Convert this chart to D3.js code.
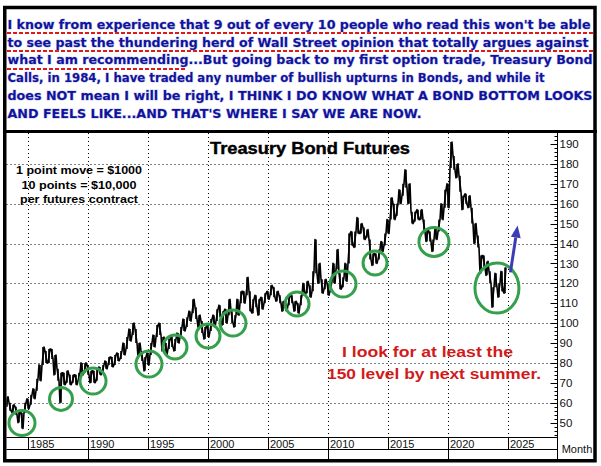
<!DOCTYPE html>
<html><head><meta charset="utf-8">
<script src="https://cdn.jsdelivr.net/npm/d3@7"></script>
<style>html,body{margin:0;padding:0;background:#fff;} svg{display:block}</style>
</head><body><svg id="c" width="601" height="466"></svg>
<script>
// ---------- data ----------
const headerLines = [
  "I know from experience that 9 out of every 10 people who read this won't be able",
  "to see past the thundering herd of Wall Street opinion that totally argues against",
  "what I am recommending...But going back to my first option trade, Treasury Bond",
  "Calls, in 1984, I have traded any number of bullish upturns in Bonds, and while it",
  "does NOT mean I will be right, I THINK I DO KNOW WHAT A BOND BOTTOM LOOKS",
  "AND FEELS LIKE...AND THAT'S WHERE I SAY WE ARE NOW."
];
const chartTitle = "Treasury Bond Futures";
const noteLines = ["1 point move = $1000", "10 points = $10,000", "per futures contract"];
const forecastLines = ["I look for at least the", "150 level by next summer."];
const xTickYears = [1985, 1990, 1995, 2000, 2005, 2010, 2015, 2020, 2025];
const xDecadeYears = [1990, 2000, 2010, 2020];
const yTickValues = [50, 60, 70, 80, 90, 100, 110, 120, 130, 140, 150, 160, 170, 180, 190];
const yGridValues = [60, 80, 100, 120, 140, 160, 180];
const axisUnitLabel = "Month";
// quarterly ranges, first quarter = 1983.25
const startYear = 1983.25;
const quarterLow = [
  58,56,55,
  54,50,47,55,  57,59,62,66,  71,79,80,80,  82,74,71,60,  69,70,69,70,
  69,71,74,75,  74,70,70,71,  74,75,77,79,  78,79,81,82,  84,87,91,94,
  90,83,81,76,  79,84,88,93,  94,86,84,87,  88,86,90,93,  96,98,101,105,
  102,98,95,92, 93,96,98,101, 103,99,100,104, 100,98,104,110, 110,114,106,105,
  108,104,107,110, 112,114,113,111, 110,106,106,109, 110,106,105,109, 114,115,113,116,
  125,120,115,117, 114,116,120,127, 117,118,121,130, 139,138,145,145, 142,143,132,129,
  130,132,136,139, 145,152,152,154, 160,164,168,160, 150,151,152,152, 146,141,141,136,
  142,146,152,158, 158,178,177,173, 166,157,160,158, 150,140,138,125, 128,124,120,108,
  118,113,116,115
];
const quarterHigh = [
  63,60,59,
  58,56,55,60,  62,64,67,72,  79,88,86,87,  87,84,77,75,  75,76,74,74,
  74,75,80,80,  79,76,76,77,  78,79,81,83,  83,84,85,86,  90,93,97,100,
  97,90,86,83,  85,90,94,99,  100,93,90,92,  93,92,95,98,  102,103,106,112,
  108,104,101,98, 99,102,104,107, 109,106,107,112, 106,104,112,116, 116,123,116,112,
  114,112,113,115, 116,119,118,116, 114,111,110,114, 114,111,110,114, 120,121,119,126,
  142,130,122,122, 120,121,130,137, 125,123,130,145, 146,146,153,150, 148,147,142,135,
  135,137,141,145, 152,163,160,160, 167,170,177,170, 156,156,157,157, 152,147,146,142,
  148,152,160,167, 170,191,184,180, 174,164,165,164, 158,150,144,134, 134,131,126,118,
  125,120,126,128
];
// circled bottoms: [year, value]
const bottomYears  = [1984.5, 1987.75, 1990.42, 1995.08, 1997.25, 2000.0, 2002.08, 2007.42, 2011.25, 2013.92, 2018.83, 2024.08];
const bottomValues = [49.8, 61.9, 70.9, 79.4, 88.0, 93.5, 100.0, 109.6, 119.6, 130.2, 140.8, 117.6];
const arrowFrom = [2025.2, 125.5];
const arrowTo = [2025.8, 149];

// ---------- layout ----------
const svg = d3.select("#c");
const plot = {left: 6.5, right: 557, top: 133, bottom: 437};
const x = d3.scaleLinear().domain([1985, 2025]).range([28, 508]);
const y = d3.scaleLinear().domain([50, 190]).range([422.6, 144]);

svg.append("rect").attr("width", 601).attr("height", 466).attr("fill", "#fff");

// header
const headerBaselines = [29, 46.7, 64.4, 82.1, 99.8, 117.5];
const headerWidths = [583, 581, 585, 537, 585, 414];
const underlines = [[7, 593, 33], [7, 596, 51], [7, 187, 69]];
svg.append("g").selectAll("line").data(underlines).join("line")
  .attr("x1", d => d[0]).attr("x2", d => d[1]).attr("y1", d => d[2]).attr("y2", d => d[2])
  .attr("stroke", "#e01818").attr("stroke-width", 2).attr("stroke-dasharray", "4,2");
svg.append("g").selectAll("text").data(headerLines).join("text")
  .attr("x", 7.5).attr("y", (d, i) => headerBaselines[i])
  .attr("textLength", (d, i) => headerWidths[i]).attr("lengthAdjust", "spacingAndGlyphs")
  .attr("font-family", "'DejaVu Sans', Verdana, sans-serif").attr("font-weight", "bold")
  .attr("font-size", 12).attr("fill", "#12129a")
  .attr("stroke", "rgba(110,130,230,0.4)").attr("stroke-width", 1.1).attr("paint-order", "stroke")
  .text(d => d);

// clip
svg.append("clipPath").attr("id", "pc").append("rect")
  .attr("x", plot.left).attr("y", plot.top).attr("width", plot.right - plot.left).attr("height", plot.bottom - plot.top);

// grid
const grid = svg.append("g").attr("stroke", "#000").attr("stroke-width", 1).attr("stroke-dasharray", "1,3");
grid.selectAll(".gy").data(yGridValues).join("line")
  .attr("x1", plot.left).attr("x2", plot.right).attr("y1", d => Math.round(y(d)) + 0.5).attr("y2", d => Math.round(y(d)) + 0.5);
grid.selectAll(".gx").data(xTickYears).join("line")
  .attr("y1", plot.top).attr("y2", plot.bottom).attr("x1", d => Math.round(x(d)) + 0.5).attr("x2", d => Math.round(x(d)) + 0.5);

// price line
const pts = [];
quarterLow.forEach((lo, i) => {
  const t = startYear + i * 0.25;
  const hi = quarterHigh[i];
  if (i % 2 === 0) { pts.push([x(t) - 1, y(lo)]); pts.push([x(t) + 1, y(hi)]); }
  else { pts.push([x(t) - 1, y(hi)]); pts.push([x(t) + 1, y(lo)]); }
});
const g = svg.append("g").attr("clip-path", "url(#pc)");
g.append("path").attr("d", d3.line()(pts)).attr("fill", "none").attr("stroke", "#000").attr("stroke-width", 1.6).attr("stroke-linejoin", "round");
g.selectAll(".bar").data(quarterLow).join("line")
  .attr("x1", (d, i) => x(startYear + i * 0.25)).attr("x2", (d, i) => x(startYear + i * 0.25))
  .attr("y1", d => y(d)).attr("y2", (d, i) => y(quarterHigh[i]))
  .attr("stroke", "#000").attr("stroke-width", 1.6);

// circles
const circleRx = [13, 11.5, 13, 13, 12, 12, 13, 12, 13, 12, 15, 22];
const circleRy = [12.5, 11.5, 13, 13, 12, 12, 13, 12, 13, 12, 14.5, 25];
svg.append("g").selectAll("ellipse").data(bottomYears).join("ellipse")
  .attr("cx", d => x(d)).attr("cy", (d, i) => y(bottomValues[i]))
  .attr("rx", (d, i) => circleRx[i]).attr("ry", (d, i) => circleRy[i])
  .attr("fill", "none").attr("stroke", "#35a04c").attr("stroke-width", 3);

// arrow
const ax1 = x(arrowFrom[0]), ay1 = y(arrowFrom[1]), ax2 = x(arrowTo[0]), ay2 = y(arrowTo[1]);
const ang = Math.atan2(ay2 - ay1, ax2 - ax1);
const head = 12, hw = 5;
const bx = ax2 - head * Math.cos(ang), by = ay2 - head * Math.sin(ang);
svg.append("line").attr("x1", ax1).attr("y1", ay1).attr("x2", bx).attr("y2", by)
  .attr("stroke", "#3c3cb4").attr("stroke-width", 3);
svg.append("path").attr("d", `M${ax2},${ay2}L${bx + hw * Math.sin(ang)},${by - hw * Math.cos(ang)}L${bx - hw * Math.sin(ang)},${by + hw * Math.cos(ang)}Z`)
  .attr("fill", "#3c3cb4");

// title and notes
svg.append("text").attr("x", 310).attr("y", 153.5).attr("text-anchor", "middle")
  .attr("font-family", "'Liberation Sans', Arial, sans-serif").attr("font-weight", "bold").attr("font-size", 16)
  .attr("stroke", "#000").attr("stroke-width", 0.4)
  .attr("textLength", 200).attr("lengthAdjust", "spacingAndGlyphs").attr("fill", "#000").text(chartTitle);
const noteBase = [174, 188.5, 202.5], noteW = [126, 115, 118];
svg.append("g").selectAll("text").data(noteLines).join("text")
  .attr("x", 79).attr("y", (d, i) => noteBase[i]).attr("text-anchor", "middle")
  .attr("textLength", (d, i) => noteW[i]).attr("lengthAdjust", "spacingAndGlyphs")
  .attr("font-family", "'Liberation Sans', Arial, sans-serif").attr("font-weight", "bold").attr("font-size", 11.5)
  .attr("fill", "#000").text(d => d);
const fcBase = [356.7, 379.3], fcX = [427.5, 434], fcW = [171, 214];
svg.append("g").selectAll("text").data(forecastLines).join("text")
  .attr("x", (d, i) => fcX[i]).attr("y", (d, i) => fcBase[i]).attr("text-anchor", "middle")
  .attr("textLength", (d, i) => fcW[i]).attr("lengthAdjust", "spacingAndGlyphs")
  .attr("font-family", "'Liberation Sans', Arial, sans-serif").attr("font-weight", "bold").attr("font-size", 14.5)
  .attr("fill", "#d21a1a").text(d => d);

// y axis (right)
const ya = svg.append("g").attr("stroke", "#000");
ya.append("line").attr("x1", 557.5).attr("x2", 557.5).attr("y1", plot.top).attr("y2", 461).attr("stroke-width", 1);
ya.selectAll(".mn").data(d3.range(44, 195, 2)).join("line")
  .attr("x1", 554.5).attr("x2", 557.5).attr("y1", d => Math.round(y(d)) + 0.5).attr("y2", d => Math.round(y(d)) + 0.5);
ya.selectAll(".mj").data(yTickValues).join("line")
  .attr("x1", 550.5).attr("x2", 557.5).attr("y1", d => Math.round(y(d)) + 0.5).attr("y2", d => Math.round(y(d)) + 0.5);
svg.append("g").selectAll("text").data(yTickValues).join("text")
  .attr("x", 559.5).attr("y", d => y(d)).attr("dy", "0.36em")
  .attr("font-family", "'Liberation Sans', Arial, sans-serif").attr("font-size", 11.5).attr("fill", "#111")
  .text(d => d);
svg.append("text").attr("x", 577).attr("y", 453).attr("text-anchor", "middle")
  .attr("font-family", "'Liberation Sans', Arial, sans-serif").attr("font-size", 11).attr("fill", "#111").text(axisUnitLabel);

// x axis rows
const xa = svg.append("g").attr("stroke", "#000").attr("stroke-width", 1);
xa.append("line").attr("x1", plot.left).attr("x2", 557.5).attr("y1", 437.5).attr("y2", 437.5);
xa.append("line").attr("x1", plot.left).attr("x2", 557.5).attr("y1", 449.5).attr("y2", 449.5);
xa.selectAll(".t").data(xTickYears).join("line")
  .attr("x1", d => Math.round(x(d)) + 0.5).attr("x2", d => Math.round(x(d)) + 0.5).attr("y1", 437).attr("y2", 449.5);
xa.selectAll(".d").data(xDecadeYears).join("line")
  .attr("x1", d => Math.round(x(d)) + 0.5).attr("x2", d => Math.round(x(d)) + 0.5).attr("y1", 449.5).attr("y2", 460);
svg.append("g").selectAll("text").data(xTickYears).join("text")
  .attr("x", d => x(d) + 2).attr("y", 447.5)
  .attr("font-family", "'Liberation Sans', Arial, sans-serif").attr("font-size", 11).attr("fill", "#111")
  .text(d => d);

// frame
svg.append("line").attr("x1", 3).attr("x2", 597).attr("y1", 131.5).attr("y2", 131.5).attr("stroke", "#000").attr("stroke-width", 3);
svg.append("rect").attr("x", 4.75).attr("y", 7.5).attr("width", 590.25).attr("height", 453.25)
  .attr("fill", "none").attr("stroke", "#000").attr("stroke-width", 3.5);
</script></body></html>
